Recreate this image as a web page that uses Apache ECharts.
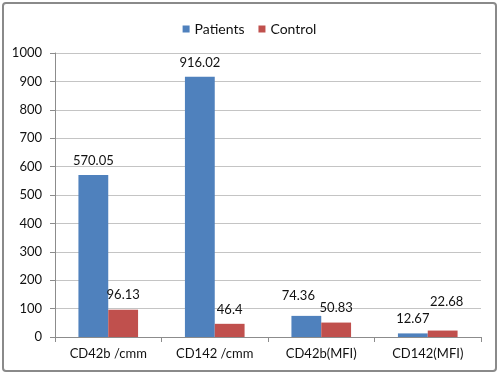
<!DOCTYPE html>
<html>
<head>
<meta charset="utf-8">
<script src="https://cdn.jsdelivr.net/npm/echarts@6/dist/echarts.min.js"></script>
<style>
  html, body { margin: 0; padding: 0; background: #fff; }
  #chart { width: 499px; height: 375px; }
</style>
</head>
<body>
<div id="chart"></div>
<script>
// chart data
var categories = ['CD42b /cmm', 'CD142 /cmm', 'CD42b(MFI)', 'CD142(MFI)'];
var patients = [570.05, 916.02, 74.36, 12.67];
var control = [96.13, 46.4, 50.83, 22.68];
var yTicks = [0, 100, 200, 300, 400, 500, 600, 700, 800, 900, 1000];

var font = 'Lato, "Open Sans", sans-serif';

// labels Excel nudged to avoid overlaps: [series, index, dx, dy]
var labelNudges = [[0, 2, -8, -6], [1, 3, 4, -14]];

function withNudges(values, s) {
  return values.map(function (v, i) {
    for (var k = 0; k < labelNudges.length; k++) {
      var n = labelNudges[k];
      if (n[0] === s && n[1] === i) {
        return { value: v, label: { offset: [n[2], n[3]] } };
      }
    }
    return v;
  });
}

var chart = echarts.init(document.getElementById('chart'));
var labelStyle = { show: true, position: 'top', distance: 8, fontSize: 13, color: '#111', fontFamily: font };
var option = {
  animation: false,
  textStyle: { fontFamily: font },
  graphic: [{
    type: 'rect',
    shape: { x: 3, y: 3, width: 493, height: 368, r: 3 },
    style: { fill: 'none', stroke: '#8a8a8a', lineWidth: 2 },
    silent: true
  }],
  legend: {
    top: 17,
    left: 'center',
    icon: 'rect',
    itemWidth: 7,
    itemHeight: 7,
    itemGap: 14,
    textStyle: { fontSize: 14, color: '#111', fontFamily: font },
    data: ['Patients', 'Control']
  },
  grid: {
    left: 55,
    right: 18,
    top: 53,
    bottom: 38
  },
  xAxis: {
    type: 'category',
    data: categories,
    axisLine: { lineStyle: { color: '#8c8c8c', width: 1 } },
    axisTick: { show: true, length: 5, lineStyle: { color: '#8c8c8c' } },
    axisLabel: { margin: 10, fontSize: 13, color: '#111', fontFamily: font }
  },
  yAxis: {
    type: 'value',
    min: yTicks[0],
    max: yTicks[yTicks.length - 1],
    interval: yTicks[1] - yTicks[0],
    axisLine: { show: true, lineStyle: { color: '#8c8c8c', width: 1 } },
    axisTick: { show: true, length: 5, lineStyle: { color: '#8c8c8c' } },
    axisLabel: {
      margin: 13, fontSize: 13, color: '#111', fontFamily: font,
      formatter: function (v) { return String(v); }
    },
    splitLine: { lineStyle: { color: '#c4c4c4', width: 1 } }
  },
  series: [
    {
      name: 'Patients',
      type: 'bar',
      data: withNudges(patients, 0),
      barGap: '0%',
      barCategoryGap: '44%',
      itemStyle: { color: '#4F81BD' },
      label: labelStyle
    },
    {
      name: 'Control',
      type: 'bar',
      data: withNudges(control, 1),
      barGap: '0%',
      barCategoryGap: '44%',
      itemStyle: { color: '#C0504D' },
      label: labelStyle
    }
  ]
};
chart.setOption(option);
</script>
</body>
</html>
